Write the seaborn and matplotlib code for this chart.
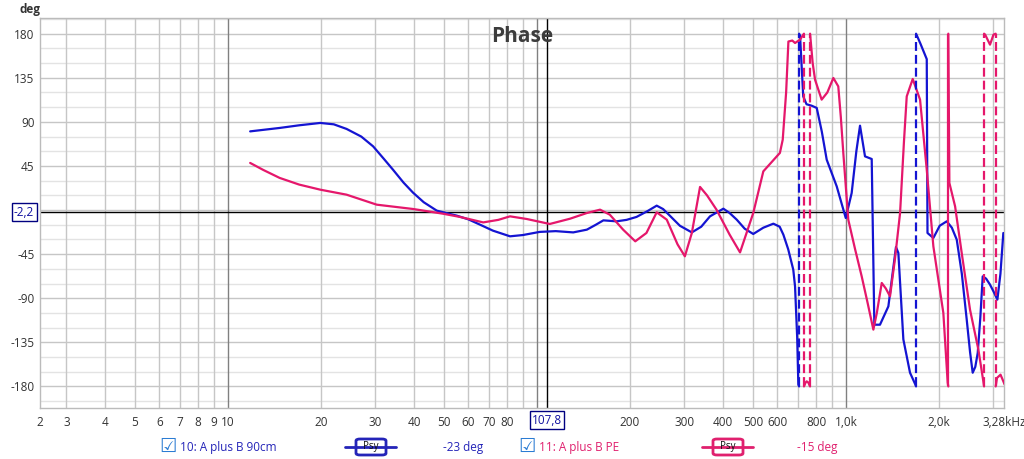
import numpy as np
import pandas as pd
import matplotlib
matplotlib.use("Agg")
import matplotlib.pyplot as plt
import matplotlib.transforms as mtransforms
from matplotlib.lines import Line2D
from matplotlib.patches import FancyBboxPatch
import seaborn as sns

# 10: A plus B 90cm  (one list per wrapped segment, Hz / deg)
blue_freq = [
    [11.8, 14.7, 17, 19.9, 22, 24.2, 27, 29.5, 32, 34.2, 37, 39.7, 43, 47.4, 55, 60, 65.4, 72, 81.8, 90,
     102, 115, 131, 145, 155, 164, 181, 195, 210, 228, 244, 256, 269, 290, 317, 340, 363, 401, 420, 443,
     470, 501, 540, 582, 610, 627, 650, 675, 684, 695, 701, 705],
    [705, 710, 727, 745, 774, 804, 835, 866, 933, 998, 1043, 1080, 1110, 1152, 1211, 1235, 1288, 1371,
     1451, 1477, 1533, 1611, 1676, 1685],
    [1685, 1740, 1825, 1835, 1917, 2010, 2118, 2200, 2282, 2370, 2458, 2520, 2570, 2620, 2668, 2720,
     2769, 2840, 2924, 3000, 3089, 3160, 3229],
]
blue_deg = [
    [80.3, 83.8, 86.5, 88.9, 87.5, 82.8, 75, 65, 52, 41.2, 28, 17.8, 8, -0.6, -5.7, -9.5, -14.9, -21, -26.8, -25.5,
     -22.3, -21.5, -22.8, -20, -15, -10.5, -11.5, -10, -7, -1, 4.5, 1, -5.7, -16, -22.8, -17, -6.4, 1.4, -3, -9.8,
     -19, -24.4, -18, -13.9, -17, -25.1, -40, -60.8, -77.9, -130, -178, -180],
    [180, 178, 116, 108, 106.5, 104.2, 80, 51.4, 24.2, -8.1, 17.4, 60, 86.1, 54.8, 52.1, -117, -117, -98.3,
     -37.7, -43.8, -132, -166, -178, -180],
    [180, 170, 154, -23.4, -28.5, -16, -11.5, -18, -30.2, -65, -111.8, -145, -166, -160, -145.8, -110,
     -67.7, -70, -76.1, -83, -91.4, -65, -23.4],
]
blue_wraps = [705, 1685]

# 11: A plus B PE
red_freq = [
    [11.8, 13, 14.7, 17, 19.9, 24.2, 30.3, 39.7, 49.6, 56.3, 67, 75, 81.8, 92.6, 110, 128, 145, 160, 172, 190,
     208, 226, 244, 263, 285, 301, 317, 337, 355, 381, 420, 454, 501, 540, 597, 611, 624, 640, 651, 670,
     684, 710, 727, 731],
    [731, 740, 746, 755, 765],
    [765, 780, 794, 834, 870, 910, 944, 962, 980, 1017, 1070, 1124, 1175, 1226, 1258, 1305, 1345, 1388,
     1440, 1496, 1540, 1572, 1644, 1736, 1825, 1917, 2065, 2133, 2143],
    [2143, 2160, 2254, 2368, 2519, 2681, 2782, 2797],
    [2797, 2820, 2924, 3000, 3050],
    [3050, 3080, 3162, 3229, 3260],
]
red_deg = [
    [48.1, 41, 32.8, 26, 20.8, 15.7, 5.5, 1.1, -3.7, -7, -12.6, -10, -6.4, -9.1, -14.2, -8.8, -3, 0.4, -4.7, -20,
     -31.9, -23.4, -2.3, -9.8, -35, -47.2, -23.4, 23.6, 15, 0.4, -25, -43.2, -3, 39.5, 54.8, 58.3, 71.8, 120, 172, 173,
     170.5, 173.9, 179, 180],
    [-180, -176, -174.8, -176, -180],
    [180, 150, 133, 112.7, 120, 134.8, 126.2, 95, 58.3, -9.8, -40, -67.7, -95, -122, -105, -74.4, -80, -88,
     -50, -3, 70, 116, 133.8, 112.7, 41.2, -37, -105, -176, -180],
    [180, 27.7, 3.8, -43.8, -101.6, -142.4, -174.8, -180],
    [180, 179, 168.8, 179, 180],
    [-180, -171.3, -168, -174.8, -178],
]
red_wraps_dashed = [731, 765, 2797, 3050]
red_wraps_solid = [2143]

cursor_freq = 107.8
cursor_deg = -2.2

xtick_pos = [2.465, 3, 4, 5, 6, 7, 8, 9, 10, 20, 30, 40, 50, 60, 70, 80, 200, 300, 400, 500, 600, 800, 1000, 2000, 3245]
xtick_labels = ["2", "3", "4", "5", "6", "7", "8", "9", "10", "20", "30", "40", "50", "60", "70", "80",
                "200", "300", "400", "500", "600", "800", "1,0k", "2,0k", "3,28kHz"]
ytick_pos = [180, 135, 90, 45, -45, -90, -135, -180]
ytick_labels = ["180", "135", "90", "45", "-45", "-90", "-135", "-180"]

BLUE = "#1414D2"
RED = "#E5176B"
LW = 1.6

sns.set_style("white")
plt.rcParams["font.family"] = ["Open Sans", "DejaVu Sans"]

rows = []
for name, freqs, degs in (("blue", blue_freq, blue_deg), ("red", red_freq, red_deg)):
    for i, (fs, ds) in enumerate(zip(freqs, degs)):
        for f, d in zip(fs, ds):
            rows.append((name, f"{name}{i}", f, d))
df = pd.DataFrame(rows, columns=["trace", "seg", "freq", "deg"])

W, H = 1024, 459
fig = plt.figure(figsize=(W / 100, H / 100), dpi=100)
ax = fig.add_axes([40 / W, (H - 408) / H, 964 / W, 390 / H])
ax.set_xscale("log")
ax.set_xlim(2.465, 3245)
ax.set_ylim(-202, 196)

# grid
for d in range(-195, 196, 15):
    if d % 45 == 0:
        ax.axhline(d, color="#C6C6C6", lw=1, zorder=0)
    else:
        ax.axhline(d, color="#E3E3E3", lw=1, zorder=0)
for dec in (1, 10, 100, 1000):
    for m in range(1, 10):
        f = dec * m
        if f < 3 or f > 3245:
            continue
        col = "#808080" if m == 1 else "#C6C6C6"
        ax.axvline(f, color=col, lw=1, zorder=0)

# cursor
ax.axvline(cursor_freq, color="black", lw=1, zorder=1)
ax.axhline(cursor_deg, color="black", lw=1, zorder=1)

sns.lineplot(data=df, x="freq", y="deg", hue="trace", units="seg", estimator=None, sort=False,
             palette={"blue": BLUE, "red": RED}, lw=LW, legend=False, ax=ax, zorder=3)

dash = (0, (4, 1.8))
ax.vlines(blue_wraps, -180, 180, colors=BLUE, lw=LW, linestyles=dash, zorder=3)
ax.vlines(red_wraps_dashed, -180, 180, colors=RED, lw=LW, linestyles=dash, zorder=3)
ax.vlines(red_wraps_solid, -180, 180, colors=RED, lw=LW, zorder=3)

ax.set_xticks(xtick_pos, xtick_labels)
ax.set_yticks(ytick_pos, ytick_labels)
ax.minorticks_off()
ax.tick_params(length=0, labelsize=8.5, colors="#333333")
ax.tick_params(axis="x", pad=6)
ax.tick_params(axis="y", pad=4)
ax.set_xlabel("")
ax.set_ylabel("")
for s in ax.spines.values():
    s.set_color("#BBBBBB")
    s.set_linewidth(1)

ax.text(0.5, 177, "Phase", transform=mtransforms.blended_transform_factory(ax.transAxes, ax.transData),
        ha="center", va="center", fontsize=15, fontweight="bold", color="#3C3C3C", zorder=5)

# cursor readouts
box = dict(boxstyle="square,pad=0.2", fc="white", ec="#000080", lw=1)
ax.text(cursor_freq, -0.031, "107,8", transform=mtransforms.blended_transform_factory(ax.transData, ax.transAxes),
        ha="center", va="center", fontsize=8.5, color="#1010A0", bbox=box, clip_on=False, zorder=6)
ax.text(-0.006, cursor_deg, "-2,2", transform=mtransforms.blended_transform_factory(ax.transAxes, ax.transData),
        ha="right", va="center", fontsize=8.5, color="#1010A0", bbox=box, clip_on=False, zorder=6)

fig.text(19 / W, 1 - 9 / H, "deg", ha="left", va="center", fontsize=8.5, fontweight="bold", color="#333333")


# legend row
def px(x, y):
    return x / W, 1 - y / H


def legend_item(x0, label, color, sym_x0, value, val_x):
    fig.text(*px(x0 - 1, 446), "\u2611", family="DejaVu Sans", fontsize=14, color="#2B7CD3", ha="left", va="center")
    fig.text(*px(x0 + 20, 447), label, fontsize=8.5, color=color, ha="left", va="center")
    xa, ya = px(sym_x0, 447)
    xb, _ = px(sym_x0 + 51, 447)
    fig.add_artist(Line2D([xa, xb], [ya, ya], color=color, lw=2, transform=fig.transFigure))
    bx, by = px(sym_x0 + 11, 455)
    fig.add_artist(FancyBboxPatch((bx, by), 30 / W, 16 / H, boxstyle="round,pad=0,rounding_size=0.004",
                                  fc="white", ec=color, lw=2, transform=fig.transFigure))
    fig.text(*px(sym_x0 + 26, 447), "Psy", fontsize=7, color="#111111", ha="center", va="center")
    fig.text(*px(val_x, 447), value, fontsize=8.5, color=color, ha="left", va="center")


legend_item(160, "10: A plus B 90cm", "#2424B8", 345, "-23 deg", 443)
legend_item(519, "11: A plus B PE", "#E0206E", 702, "-15 deg", 797)

fig.savefig("out.png", dpi=100, facecolor="white")
